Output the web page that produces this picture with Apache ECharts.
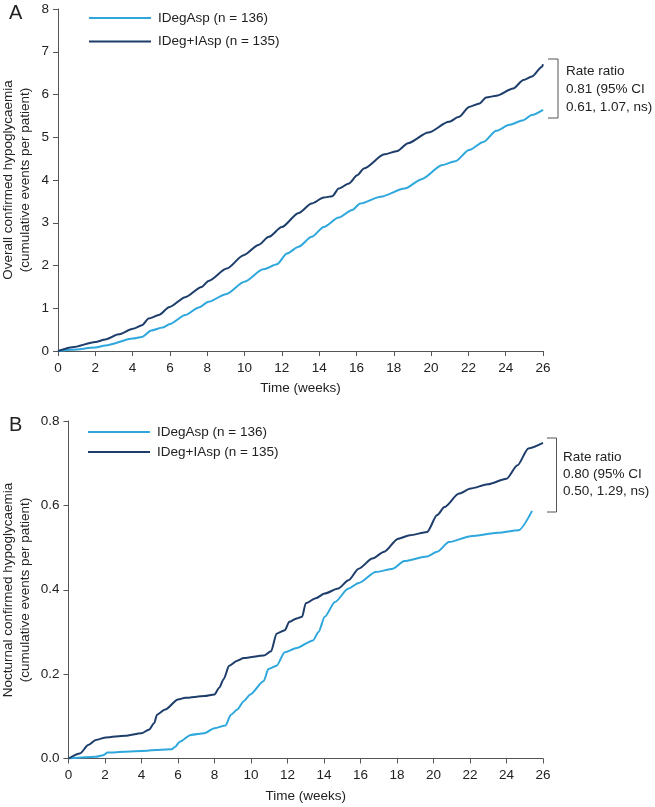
<!DOCTYPE html>
<html>
<head>
<meta charset="utf-8">
<script src="https://cdn.jsdelivr.net/npm/echarts@6/dist/echarts.min.js"></script>
<style>html,body{margin:0;padding:0;background:#fff;}#c{width:655px;height:807px;}</style>
</head>
<body>
<div id="c"></div>
<script>
// ---- Panel A: overall confirmed hypoglycaemia ----
const weeksA_IDegAsp = [0, 0.77, 2, 2.54, 4.02, 4.5, 5.0, 5.6, 6.0, 6.82, 7.55, 8.07, 9.0, 10.0, 11.0, 11.74, 12.27, 12.9, 13.6, 14.25, 15.05, 15.77, 16.2, 17.3, 18.58, 19.5, 20.6, 21.3, 22.04, 22.8, 23.5, 24.2, 24.95, 25.4, 26.0];
const valuesA_IDegAsp = [0, 0.03, 0.08, 0.13, 0.29, 0.33, 0.48, 0.55, 0.63, 0.84, 1.02, 1.15, 1.33, 1.62, 1.91, 2.03, 2.28, 2.44, 2.67, 2.90, 3.12, 3.30, 3.45, 3.61, 3.80, 4.02, 4.35, 4.44, 4.70, 4.89, 5.15, 5.29, 5.40, 5.52, 5.64];
const weeksA_IDegIAsp = [0, 0.77, 2, 2.54, 3.25, 4.02, 4.5, 4.86, 5.4, 5.98, 6.82, 7.7, 8.07, 9.05, 9.95, 10.75, 11.3, 12.0, 12.9, 13.6, 14.25, 14.7, 15.05, 15.6, 16.04, 16.4, 17.5, 18.2, 18.76, 19.85, 20.95, 21.5, 22.04, 22.6, 22.95, 23.5, 24.4, 24.95, 25.4, 25.95, 26.0];
const valuesA_IDegIAsp = [0, 0.09, 0.21, 0.27, 0.39, 0.52, 0.60, 0.76, 0.84, 1.03, 1.26, 1.50, 1.64, 1.93, 2.24, 2.48, 2.67, 2.90, 3.23, 3.45, 3.59, 3.62, 3.80, 3.92, 4.11, 4.27, 4.60, 4.68, 4.86, 5.11, 5.36, 5.48, 5.71, 5.79, 5.93, 5.97, 6.14, 6.34, 6.42, 6.65, 6.71];

// ---- Panel B: nocturnal confirmed hypoglycaemia ----
const weeksB_IDegAsp = [0, 1.5, 1.9, 2.15, 4.0, 5.65, 5.85, 6.1, 6.7, 7.45, 8.0, 8.6, 8.9, 9.25, 9.6, 9.96, 10.7, 10.95, 11.4, 11.85, 12.5, 13.4, 13.7, 14.04, 14.6, 15.34, 15.9, 16.84, 17.78, 18.4, 19.65, 20.2, 20.85, 22.04, 23.54, 24.66, 25.4];
const valuesB_IDegAsp = [0, 0.004, 0.008, 0.014, 0.018, 0.022, 0.028, 0.040, 0.056, 0.060, 0.072, 0.078, 0.104, 0.116, 0.136, 0.152, 0.184, 0.212, 0.220, 0.252, 0.262, 0.280, 0.300, 0.336, 0.371, 0.403, 0.416, 0.442, 0.450, 0.468, 0.479, 0.490, 0.513, 0.527, 0.535, 0.541, 0.587];
const weeksB_IDegIAsp = [0, 0.63, 1.08, 1.5, 2.06, 3.1, 4.0, 4.4, 4.7, 4.85, 5.3, 6.0, 6.4, 7.45, 8.0, 8.26, 8.5, 8.8, 9.25, 9.6, 10.7, 11.1, 11.4, 11.85, 12.1, 12.5, 12.8, 13.0, 13.55, 14.04, 14.78, 15.34, 15.9, 16.65, 17.3, 18.06, 18.7, 19.65, 20.2, 20.6, 21.4, 22.04, 22.98, 24.0, 24.6, 25.2, 26.0];
const valuesB_IDegIAsp = [0, 0.012, 0.032, 0.044, 0.050, 0.054, 0.060, 0.068, 0.084, 0.104, 0.116, 0.140, 0.144, 0.148, 0.152, 0.168, 0.188, 0.220, 0.232, 0.238, 0.244, 0.254, 0.296, 0.304, 0.324, 0.332, 0.336, 0.368, 0.380, 0.391, 0.403, 0.4225, 0.45, 0.474, 0.49, 0.521, 0.529, 0.537, 0.577, 0.596, 0.628, 0.64, 0.65, 0.663, 0.695, 0.735, 0.748];

const seriesNames = ['IDegAsp (n = 136)', 'IDeg+IAsp (n = 135)'];
const rateTextA = ['Rate ratio', '0.81 (95% CI', '0.61, 1.07, ns)'];
const rateTextB = ['Rate ratio', '0.80 (95% CI', '0.50, 1.29, ns)'];
const yTitleA = ['Overall confirmed hypoglycaemia', '(cumulative events per patient)'];
const yTitleB = ['Nocturnal confirmed hypoglycaemia', '(cumulative events per patient)'];

const zip = (xs, ys) => xs.map((x, i) => [x, ys[i]]);
const LIGHT = '#2ea7dc';
const DARK = '#1d3d6b';
const AXIS = '#555';
const TXT = '#222';
const FONT = '"Liberation Sans", Arial, Helvetica, sans-serif';
const FS = 13.5;

function xAx(grid, gap) {
  return {
    gridIndex: grid, type: 'value', min: 0, max: 26, interval: 2,
    axisLine: { show: true, lineStyle: { color: AXIS, width: 1 } },
    axisTick: { show: true, length: 5, lineStyle: { color: AXIS } },
    axisLabel: { color: TXT, fontSize: FS, margin: 10, fontFamily: FONT },
    splitLine: { show: false },
    name: 'Time (weeks)', nameLocation: 'middle', nameGap: gap,
    nameTextStyle: { color: TXT, fontSize: FS, fontFamily: FONT }
  };
}
function yAx(grid, max, interval, dec) {
  return {
    gridIndex: grid, type: 'value', min: 0, max: max, interval: interval,
    axisLine: { show: true, lineStyle: { color: AXIS, width: 1 } },
    axisTick: { show: true, length: 5, lineStyle: { color: AXIS } },
    axisLabel: { color: TXT, fontSize: FS, margin: 9, fontFamily: FONT,
      formatter: v => v.toFixed(dec) },
    splitLine: { show: false }
  };
}
function line(name, data, color, grid) {
  return {
    name: name, type: 'line', xAxisIndex: grid, yAxisIndex: grid,
    data: data, symbol: 'none', smooth: 0.25, smoothMonotone: 'x',
    lineStyle: { color: color, width: 2 }, itemStyle: { color: color },
    emphasis: { disabled: true }
  };
}
function legend(left, top, gap) {
  return {
    left: left, top: top, orient: 'vertical', padding: 0,
    itemWidth: 62, itemHeight: 14, itemGap: gap,
    data: seriesNames, selectedMode: false,
    itemStyle: { opacity: 0 },
    textStyle: { color: TXT, fontSize: FS, fontFamily: FONT, padding: [0, 0, 0, 2] }
  };
}
function txt(x, y, s, size, rot) {
  return {
    type: 'text', x: x, y: y, rotation: rot || 0,
    style: { text: s, fill: TXT, font: size + 'px ' + FONT,
      textAlign: rot ? 'center' : 'left', textVerticalAlign: 'middle' }
  };
}
function bracket(x, y1, y2, xl) {
  return {
    type: 'polyline',
    shape: { points: [[xl, y1], [x, y1], [x, y2], [xl, y2]] },
    style: { stroke: AXIS, lineWidth: 1, fill: null }
  };
}

const chart = echarts.init(document.getElementById('c'));
chart.setOption({
  animation: false,
  backgroundColor: '#fff',
  textStyle: { fontFamily: FONT },
  grid: [
    { left: 58, right: 112, top: 9, height: 342 },
    { left: 68.5, right: 112, top: 421, height: 337.5 }
  ],
  xAxis: [xAx(0, 30), xAx(1, 31)],
  yAxis: [yAx(0, 8, 1, 0), yAx(1, 0.8, 0.2, 1)],
  legend: [legend(88, 11, 9.5), legend(87, 425, 6)],
  series: [
    line(seriesNames[0], zip(weeksA_IDegAsp, valuesA_IDegAsp), LIGHT, 0),
    line(seriesNames[1], zip(weeksA_IDegIAsp, valuesA_IDegIAsp), DARK, 0),
    line(seriesNames[0], zip(weeksB_IDegAsp, valuesB_IDegAsp), LIGHT, 1),
    line(seriesNames[1], zip(weeksB_IDegIAsp, valuesB_IDegIAsp), DARK, 1)
  ],
  graphic: [
    txt(9, 13, 'A', 20),
    txt(9, 425, 'B', 20),
    txt(8.5, 180, yTitleA[0], FS, Math.PI / 2),
    txt(25, 180, yTitleA[1], FS, Math.PI / 2),
    txt(8.5, 590, yTitleB[0], FS, Math.PI / 2),
    txt(25, 590, yTitleB[1], FS, Math.PI / 2),
    bracket(558, 59, 118, 548),
    txt(566, 71, rateTextA[0], FS),
    txt(566, 89, rateTextA[1], FS),
    txt(566, 107, rateTextA[2], FS),
    bracket(556.5, 438, 512, 547),
    txt(563, 457, rateTextB[0], FS),
    txt(563, 474, rateTextB[1], FS),
    txt(563, 491, rateTextB[2], FS)
  ]
});
</script>
</body>
</html>
